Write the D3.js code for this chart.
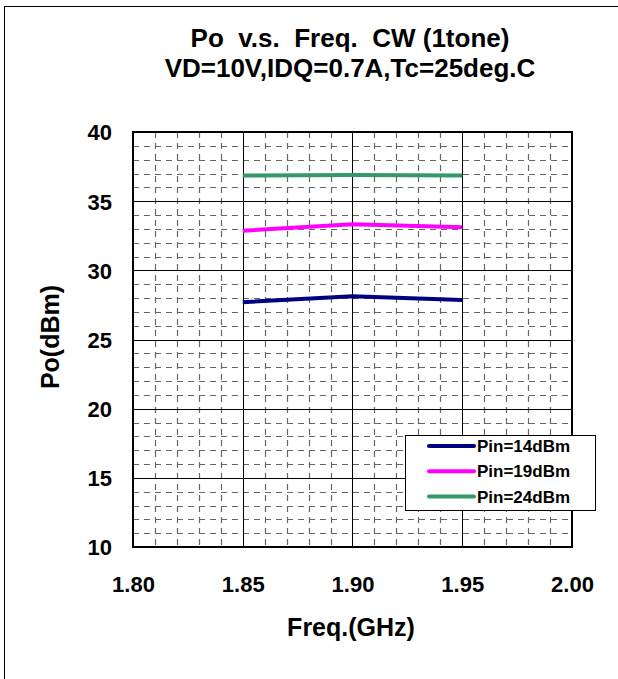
<!DOCTYPE html>
<html>
<head>
<meta charset="utf-8">
<script src="https://cdn.jsdelivr.net/npm/d3@7"></script>
<style>
  body { margin: 0; background: #fff; }
  svg { display: block; }
  text { font-family: "Liberation Sans", Arial, sans-serif; font-weight: bold; fill: #000; }
</style>
</head>
<body>
<svg id="chart" width="618" height="679"></svg>
<script>
const titleLines = ["Po  v.s.  Freq.  CW (1tone)", "VD=10V,IDQ=0.7A,Tc=25deg.C"];
const xLabel = "Freq.(GHz)";
const yLabel = "Po(dBm)";
const freqs = [1.85, 1.90, 1.95];
const pin14 = [27.7, 28.13, 27.85];
const pin19 = [32.86, 33.34, 33.12];
const pin24 = [36.85, 36.9, 36.85];
const seriesNames = ["Pin=14dBm", "Pin=19dBm", "Pin=24dBm"];
const seriesColors = ["#000080", "#ff00ff", "#339966"];
const xTicks = [1.80, 1.85, 1.90, 1.95, 2.00];
const yTicks = [10, 15, 20, 25, 30, 35, 40];

const series = [pin14, pin19, pin24].map((vals, i) => ({
  name: seriesNames[i], color: seriesColors[i],
  points: freqs.map((f, j) => ({ x: f, y: vals[j] }))
}));

const svg = d3.select("#chart");
const L = 133, R = 572, T = 132, B = 547;
const x = d3.scaleLinear().domain([1.80, 2.00]).range([L, R]);
const y = d3.scaleLinear().domain([10, 40]).range([B, T]);

// outer frame
svg.append("rect").attr("x", 4.5).attr("y", 6.5).attr("width", 700).attr("height", 700)
  .attr("fill", "none").attr("stroke", "#000").attr("stroke-width", 1);

// title
svg.append("text").attr("x", 350).attr("y", 47).attr("text-anchor", "middle")
  .style("font-size", "26px").style("white-space", "pre").text(titleLines[0]);
svg.append("text").attr("x", 350).attr("y", 77).attr("text-anchor", "middle")
  .style("font-size", "26px").text(titleLines[1]);

// minor grid
const g = svg.append("g");
const xMinor = d3.range(1.80, 2.0001, 0.01).filter((v, i) => i % 5 !== 0);
const yMinor = d3.range(10, 40.0001, 1).filter((v, i) => i % 5 !== 0);
g.selectAll(".xm").data(xMinor).join("line")
  .attr("x1", d => Math.round(x(d)) + 0.5).attr("x2", d => Math.round(x(d)) + 0.5)
  .attr("y1", T).attr("y2", B)
  .attr("stroke", "#666").attr("stroke-width", 1.2).attr("stroke-dasharray", "6,5");
g.selectAll(".ym").data(yMinor).join("line")
  .attr("x1", L).attr("x2", R)
  .attr("y1", d => Math.round(y(d)) + 0.5).attr("y2", d => Math.round(y(d)) + 0.5)
  .attr("stroke", "#666").attr("stroke-width", 1.2).attr("stroke-dasharray", "6,5");

// major grid
g.selectAll(".xM").data(xTicks).join("line")
  .attr("x1", d => Math.round(x(d)) + 0.5).attr("x2", d => Math.round(x(d)) + 0.5)
  .attr("y1", T).attr("y2", B).attr("stroke", "#000").attr("stroke-width", 1);
g.selectAll(".yM").data(yTicks).join("line")
  .attr("x1", L).attr("x2", R)
  .attr("y1", d => Math.round(y(d)) + 0.5).attr("y2", d => Math.round(y(d)) + 0.5)
  .attr("stroke", "#000").attr("stroke-width", 1);

// axes (labels via d3 axes)
const xAxis = d3.axisBottom(x).tickValues(xTicks).tickFormat(d3.format(".2f")).tickSize(0).tickPadding(0);
svg.append("g").attr("transform", `translate(0,${B + 45})`).call(xAxis)
  .call(s => s.select(".domain").remove())
  .selectAll("text").style("font-size", "22px").attr("dy", 0).attr("y", 0);
const yAxis = d3.axisLeft(y).tickValues(yTicks).tickFormat(d3.format("d")).tickSize(0).tickPadding(21);
svg.append("g").attr("transform", `translate(${L},0)`).call(yAxis)
  .call(s => s.select(".domain").remove())
  .selectAll("text").style("font-size", "22px").attr("dy", "0.36em");

// plot border
svg.append("rect").attr("x", L).attr("y", T).attr("width", R - L).attr("height", B - T)
  .attr("fill", "none").attr("stroke", "#000").attr("stroke-width", 2);

// series
const line = d3.line().x(d => x(d.x)).y(d => y(d.y));
svg.selectAll(".series").data(series).join("path")
  .attr("d", d => line(d.points)).attr("fill", "none")
  .attr("stroke", d => d.color).attr("stroke-width", 4);

// axis titles
svg.append("text").attr("x", 351).attr("y", 636).attr("text-anchor", "middle")
  .style("font-size", "25px").text(xLabel);
svg.append("text").attr("transform", "translate(59,337) rotate(-90)").attr("text-anchor", "middle")
  .style("font-size", "25px").text(yLabel);

// legend
const lg = svg.append("g");
lg.append("rect").attr("x", 405.5).attr("y", 435.5).attr("width", 190).attr("height", 75)
  .attr("fill", "#fff").attr("stroke", "#000").attr("stroke-width", 1);
series.forEach((s, i) => {
  const yy = 446 + i * 25.3;
  lg.append("line").attr("x1", 429).attr("x2", 474).attr("y1", yy).attr("y2", yy)
    .attr("stroke", s.color).attr("stroke-width", 4).attr("stroke-linecap", "round");
  lg.append("text").attr("x", 477).attr("y", yy + 6).style("font-size", "17px").text(s.name);
});
</script>
</body>
</html>
